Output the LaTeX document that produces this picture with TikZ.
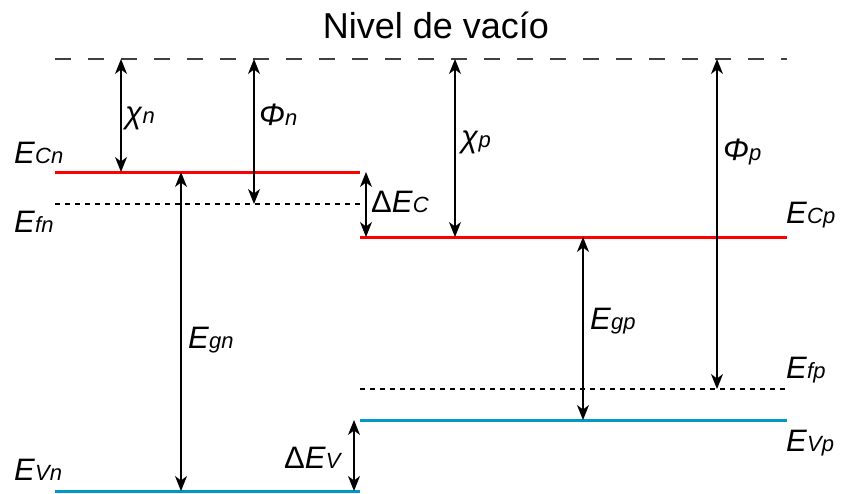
\documentclass[tikz,border=0pt]{standalone}
\usepackage{fontspec}
\setmainfont{Liberation Sans}
\usetikzlibrary{arrows.meta,calc}

\newcommand{\lvl}[2]{\textit{#1}{\fontsize{22}{22}\selectfont\textit{#2}}}
\newcommand{\dlvl}[2]{Δ\lvl{#1}{#2}}

\begin{document}
\begin{tikzpicture}[
    x=1pt, y=-1pt,
    vacuum/.style={draw=black!75, line width=1.5pt, dash pattern=on 16pt off 17pt},
    fermi/.style={draw=black, line width=1.2pt, dash pattern=on 5pt off 5pt},
    cband/.style={draw=red, line width=3pt},
    vband/.style={draw={rgb,255:red,0;green,153;blue,196}, line width=3pt},
    gaparrow/.style={{Stealth[length=15pt,width=12pt,inset=4.5pt]}-{Stealth[length=15pt,width=12pt,inset=4.5pt]}, line width=1.4pt},
    lbl/.style={anchor=base west, inner sep=0pt, font=\fontsize{31}{31}\selectfont}
]
    \useasboundingbox (0,0) rectangle (841,493);

    % levels
    \coordinate (vacL) at (55,59);   \coordinate (vacR) at (787,59);
    \coordinate (cnL) at (55,172);   \coordinate (cnR) at (360,172);
    \coordinate (fnL) at (55,204);   \coordinate (fnR) at (360,204);
    \coordinate (vnL) at (55,491);   \coordinate (vnR) at (360,491);
    \coordinate (cpL) at (360,237);  \coordinate (cpR) at (787,237);
    \coordinate (fpL) at (360,389);  \coordinate (fpR) at (787,389);
    \coordinate (vpL) at (360,420);  \coordinate (vpR) at (787,420);

    \draw[vacuum] (vacL) -- (vacR);
    \draw[fermi] (fnL) -- (fnR);
    \draw[fermi] (fpL) -- (fpR);
    \draw[cband] (cnL) -- (cnR);
    \draw[cband] (cpL) -- (cpR);
    \draw[vband] (vnL) -- (vnR);
    \draw[vband] (vpL) -- (vpR);

    % arrow columns
    \coordinate (xchin) at (121,0);
    \coordinate (xphin) at (254,0);
    \coordinate (xegn) at (181,0);
    \coordinate (xdec) at (366,0);
    \coordinate (xdev) at (354,0);
    \coordinate (xchip) at (455,0);
    \coordinate (xegp) at (583,0);
    \coordinate (xphip) at (717,0);

    \draw[gaparrow] (xchin |- vacL) -- (xchin |- cnL);
    \draw[gaparrow] (xphin |- vacL) -- (xphin |- fnL);
    \draw[gaparrow] (xegn |- cnL) -- (xegn |- vnL);
    \draw[gaparrow] (xdec |- cnL) -- (xdec |- cpL);
    \draw[gaparrow] (xdev |- vpL) -- (xdev |- vnL);
    \draw[gaparrow] (xchip |- vacL) -- (xchip |- cpL);
    \draw[gaparrow] (xegp |- cpL) -- (xegp |- vpL);
    \draw[gaparrow] (xphip |- vacL) -- (xphip |- fpL);

    % labels
    \node[anchor=base, inner sep=0pt, font=\fontsize{36}{36}\selectfont] (title) at (436,38) {Nivel de vacío};
    \node[lbl] (lcn) at (14,163) {\lvl{E}{Cn}};
    \node[lbl] (lfn) at (14,232) {\lvl{E}{fn}};
    \node[lbl] (lvn) at (14,480) {\lvl{E}{Vn}};
    \node[lbl] (lcp) at (786,223) {\lvl{E}{Cp}};
    \node[lbl] (lfp) at (786,378) {\lvl{E}{fp}};
    \node[lbl] (lvp) at (786,451) {\lvl{E}{Vp}};
    \node[lbl] (lchin) at (125,123) {\lvl{χ}{n}};
    \node[lbl] (lphin) at (259,125) {\lvl{Φ}{n}};
    \node[lbl] (lchip) at (461,147) {\lvl{χ}{p}};
    \node[lbl] (lphip) at (723,160) {\lvl{Φ}{p}};
    \node[lbl] (legn) at (188,348) {\lvl{E}{gn}};
    \node[lbl] (legp) at (590,329) {\lvl{E}{gp}};
    \node[lbl] (ldec) at (371,212) {\dlvl{E}{C}};
    \node[lbl] (ldev) at (284,468) {\dlvl{E}{V}};
\end{tikzpicture}
\end{document}
